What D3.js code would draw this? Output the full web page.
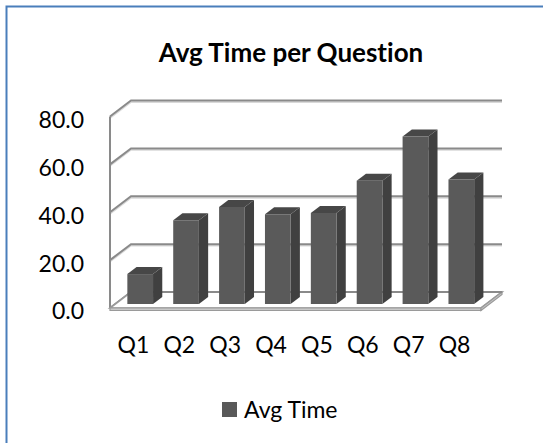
<!DOCTYPE html>
<html>
<head>
<meta charset="utf-8">
<script src="https://cdn.jsdelivr.net/npm/d3@7"></script>
<style>
  html, body { margin: 0; padding: 0; background: #fff; }
  svg { display: block; }
  text { font-family: Lato, "Open Sans", sans-serif; fill: #000; font-variant-ligatures: none; }
</style>
</head>
<body>
<svg id="chart" width="543" height="443"></svg>
<script>
// Average answer time for each survey question
const categories = ["Q1", "Q2", "Q3", "Q4", "Q5", "Q6", "Q7", "Q8"];
const avgTime = [12.5, 35, 40.5, 37.5, 38, 51.5, 70, 52];
const yTicks = [0, 20, 40, 60, 80];
const seriesName = "Avg Time";
const chartTitle = "Avg Time per Question";

const svg = d3.select("#chart");

// Frame of the chart area
svg.append("path")
  .attr("d", "M6.5,450 V6.5 H560")
  .attr("fill", "none")
  .attr("stroke", "#4a7ebb")
  .attr("stroke-width", 2);

svg.append("text")
  .attr("x", 291).attr("y", 62)
  .attr("text-anchor", "middle")
  .attr("font-weight", "bold")
  .attr("font-size", 26)
  .text(chartTitle);

// Front plane scales; depth is projected with an oblique offset
const x = d3.scaleBand().domain(categories).range([112, 479])
  .paddingInner(0.44).paddingOuter(0.22);
const y = d3.scaleLinear().domain([0, 80]).range([308, 116.5]);
const DX = 21, DY = 16;
const P = (px, v, z) => [px + z * DX, y(v) - z * DY];
const pts = arr => arr.map(p => p.join(",")).join(" ");

const floorL = 110, floorR = 481;

// Walls: gridlines on back wall plus diagonals on the side wall
const grid = svg.append("g");
yTicks.forEach(t => {
  const a = P(floorL, t, 0), b = P(floorL, t, 1), c = P(floorR, t, 1);
  const d = `M${a[0]},${a[1]} L${b[0]},${b[1]} L${c[0]},${c[1]}`;
  grid.append("path").attr("d", d).attr("transform", "translate(0,1.6)")
    .attr("fill", "none").attr("stroke", "#d9d9d9").attr("stroke-width", 1.6);
  grid.append("path").attr("d", d)
    .attr("fill", "none").attr("stroke", "#8a8a8a").attr("stroke-width", 2);
});
// Side wall front edge
grid.append("line")
  .attr("x1", floorL).attr("x2", floorL)
  .attr("y1", y(80)).attr("y2", y(0))
  .attr("stroke", "#8a8a8a").attr("stroke-width", 2);

// Floor slab
const f0 = [P(floorL, 0, 0), P(floorR, 0, 0), P(floorR, 0, 1), P(floorL, 0, 1)];
svg.append("polygon").attr("points", pts(f0))
  .attr("fill", "#fff").attr("stroke", "#9a9a9a").attr("stroke-width", 1.6);
const slabH = 2.5;
svg.append("polygon")
  .attr("points", pts([f0[0], f0[1], [f0[1][0], f0[1][1] + slabH], [f0[0][0], f0[0][1] + slabH]]))
  .attr("fill", "#c8c8c8").attr("stroke", "#9a9a9a").attr("stroke-width", 1.2);
svg.append("polygon")
  .attr("points", pts([f0[1], f0[2], [f0[2][0], f0[2][1] + slabH], [f0[1][0], f0[1][1] + slabH]]))
  .attr("fill", "#c8c8c8").attr("stroke", "#9a9a9a").attr("stroke-width", 1.2);

// Back zero line drawn again over the floor
{
  const b = P(floorL, 0, 1), c = P(floorR, 0, 1);
  svg.append("line").attr("x1", b[0]).attr("y1", b[1]).attr("x2", c[0]).attr("y2", c[1])
    .attr("stroke", "#8a8a8a").attr("stroke-width", 2);
}

// 3D columns
const z0 = 0.25, z1 = 0.69;
const bars = svg.append("g").selectAll("g").data(categories.map((c, i) => ({ c, v: avgTime[i] })))
  .join("g");
bars.append("polygon")
  .attr("points", d => {
    const x1 = x(d.c) + x.bandwidth();
    return pts([P(x1, 0, z0), P(x1, 0, z1), P(x1, d.v, z1), P(x1, d.v, z0)]);
  })
  .attr("fill", "#404040");
bars.append("polygon")
  .attr("points", d => {
    const x0 = x(d.c), x1 = x0 + x.bandwidth();
    return pts([P(x0, d.v, z0), P(x1, d.v, z0), P(x1, d.v, z1), P(x0, d.v, z1)]);
  })
  .attr("fill", "#474747");
bars.append("polygon")
  .attr("points", d => {
    const x0 = x(d.c), x1 = x0 + x.bandwidth();
    return pts([P(x0, d.v, z0), P(x1, d.v, z0), P(x1, 0, z0), P(x0, 0, z0)]);
  })
  .attr("fill", "#5a5a5a");

// Value axis labels on the front plane
const yAxis = svg.append("g")
  .attr("transform", "translate(84,3.5)")
  .call(d3.axisLeft(y).tickValues(yTicks).tickFormat(d3.format(".1f")).tickSize(0).tickPadding(0));
yAxis.select(".domain").remove();
yAxis.selectAll("text").attr("font-size", 23).attr("font-family", "Lato, 'Open Sans', sans-serif").attr("fill", "#000");

// Category labels
const xAxis = svg.append("g")
  .attr("transform", "translate(-1.5,336)")
  .call(d3.axisBottom(x).tickSize(0).tickPadding(0));
xAxis.select(".domain").remove();
xAxis.selectAll("text").attr("font-size", 23).attr("font-family", "Lato, 'Open Sans', sans-serif")
  .attr("fill", "#000").attr("dy", "0.75em");

// Legend
const legend = svg.append("g").attr("transform", "translate(222,402)");
legend.append("rect").attr("width", 15).attr("height", 15).attr("fill", "#595959");
legend.append("text").attr("x", 22).attr("y", 16).attr("font-size", 23).text(seriesName);
</script>
</body>
</html>
